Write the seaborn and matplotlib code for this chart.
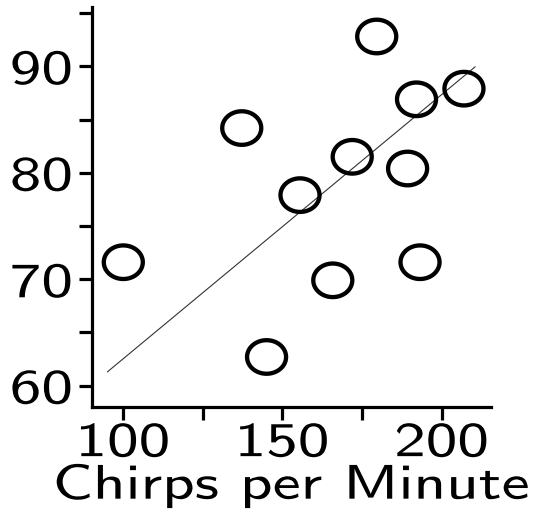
import numpy as np
import matplotlib
matplotlib.use("Agg")
import matplotlib.pyplot as plt
from matplotlib.path import Path
from matplotlib.patheffects import AbstractPathEffect
from matplotlib.transforms import Affine2D
import seaborn as sns

# ---- data ----
chirps = [100.0, 137.2, 145.0, 155.5, 165.8, 171.9, 179.6, 189.3, 192.1, 193.2, 207.0]
temps = [71.6, 84.2, 62.7, 77.9, 69.9, 81.5, 92.8, 80.4, 86.9, 71.6, 87.9]
line_x = [95.0, 210.5]
line_y = [61.3, 89.95]
xticks_major = [100, 150, 200]
xticks_minor = [125, 175]
yticks_major = [60, 70, 80, 90]
yticks_minor = [65, 75, 85, 95]
xlabel = "Chirps per Minute"


class HStretch(AbstractPathEffect):
    """Draw text stretched horizontally about an anchor edge."""

    def __init__(self, sx, anchor="center"):
        super().__init__()
        self.sx = sx
        self.anchor = anchor

    def draw_path(self, renderer, gc, tpath, affine, rgbFace=None):
        ext = tpath.get_extents(affine)
        if self.anchor == "right":
            cx = ext.x1
        elif self.anchor == "left":
            cx = ext.x0
        else:
            cx = 0.5 * (ext.x0 + ext.x1)
        aff = affine + Affine2D().translate(-cx, 0).scale(self.sx, 1.0).translate(cx, 0)
        renderer.draw_path(gc, tpath, aff, rgbFace)


sns.set_style("ticks")
plt.rcParams["font.family"] = ["cmss10", "DejaVu Sans"]
plt.rcParams["axes.unicode_minus"] = False

fig = plt.figure(figsize=(5.4, 5.1), dpi=100)
ax = fig.add_axes([0.1698, 0.2006, 0.7389, 0.7831])

# slightly wide elliptical ring marker
t = np.linspace(0, 2 * np.pi, 73)
ring = Path(np.column_stack([np.cos(t), 0.86 * np.sin(t)]), closed=True)

sns.lineplot(x=line_x, y=line_y, color="#333333", linewidth=0.8, ax=ax)
sns.scatterplot(x=chirps, y=temps, marker=ring, s=790, facecolor="none",
                edgecolor="black", linewidth=3.1, ax=ax, zorder=3)

ax.set_xlim(90.07, 215.4)
ax.set_ylim(58.03, 95.54)
ax.set_xticks(xticks_major)
ax.set_xticks(xticks_minor, minor=True)
ax.set_yticks(yticks_major)
ax.set_yticks(yticks_minor, minor=True)

sns.despine(ax=ax)
for sp in ("left", "bottom"):
    ax.spines[sp].set_linewidth(2.3)
    ax.spines[sp].set_color("black")

ax.tick_params(which="both", direction="out", length=9.4, width=2.3, color="black")
ax.tick_params(axis="x", which="major", labelsize=35, pad=1.0, labelcolor="black")
ax.tick_params(axis="y", which="major", labelsize=35, pad=4.5, labelcolor="black")
ax.set_xlabel(xlabel, fontsize=35, labelpad=-2.5, color="black")
ax.set_ylabel("")

SX = 1.3
for lab in ax.get_xticklabels():
    lab.set_path_effects([HStretch(SX, "center")])
for lab in ax.get_yticklabels():
    lab.set_path_effects([HStretch(SX, "right")])
ax.xaxis.label.set_path_effects([HStretch(SX, "center")])

fig.savefig("out.png", dpi=100)
